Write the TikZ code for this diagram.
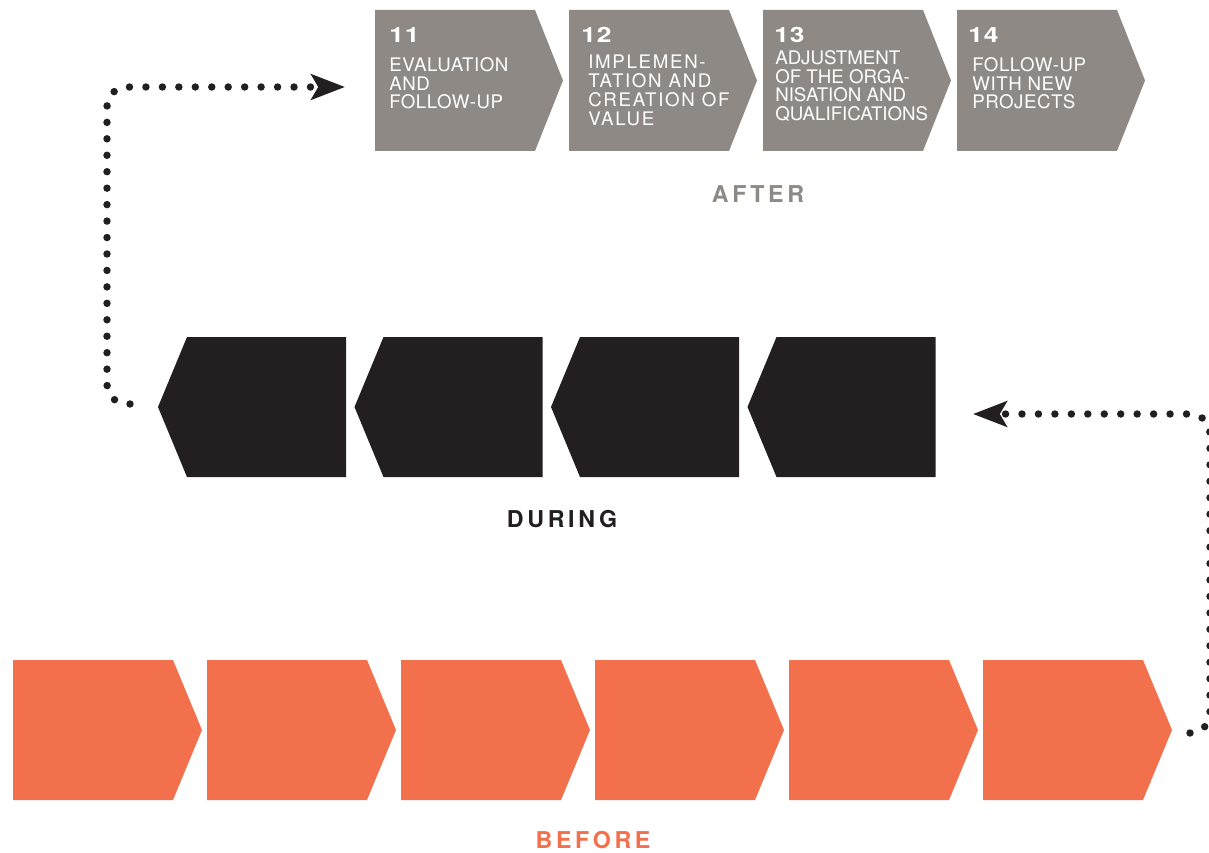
\documentclass[tikz,border=0pt]{standalone}
\usepackage{fontspec}
\setmainfont{TeX Gyre Heros}
\newfontfamily\numfont[FakeStretch=1.25, LetterSpace=4]{TeX Gyre Heros}
\newfontfamily\boxfont[LetterSpace=3]{TeX Gyre Heros}
\newfontfamily\widefont[LetterSpace=9]{TeX Gyre Heros}
\newfontfamily\phasefont[LetterSpace=16]{TeX Gyre Heros}
\usetikzlibrary{arrows.meta}

\definecolor{aftergrey}{RGB}{142,137,132}
\definecolor{duringblack}{RGB}{35,31,32}
\definecolor{beforeorange}{RGB}{242,112,76}

\tikzset{
  dots/.style={line width=5.3pt, line cap=round, dash pattern=on 0pt off 11.7pt, draw=duringblack},
  dotarrow/.style={-{Stealth[length=24pt, width=18pt, inset=5pt, fill=duringblack]}},
  stepnum/.style={anchor=north west, inner sep=0pt, text=white, font=\numfont\bfseries\fontsize{15}{15}\selectfont},
  steptext/.style={anchor=north west, inner sep=0pt, text=white, align=left, font=\boxfont\fontsize{13.3}{13.4}\selectfont},
  phase/.style={inner sep=0pt, font=\phasefont\bfseries\fontsize{16.5}{17}\selectfont}
}

\begin{document}
\begin{tikzpicture}[x=0.025cm, y=-0.025cm]
    \useasboundingbox (0,0) rectangle (1209,853);

    % After (grey, pointing right)
    \foreach \i in {0,...,3}
      \fill[aftergrey] ({375+194*\i},10) -- ++(160,0) -- ++(28,70.5) -- ++(-28,70.5) -- ++(-160,0) -- cycle;

    % Step numbers and texts
    \node[stepnum] (n11) at (389,27) {11};
    \node[steptext] (t11) at (389,57) {EVALUATION\\AND\\FOLLOW-UP};
    \node[stepnum] (n12) at (581,27) {12};
    \node[steptext, font=\widefont\fontsize{13.3}{13.4}\selectfont] (t12) at (588,55) {IMPLEMEN-\\TATION AND\\CREATION OF\\VALUE};
    \node[stepnum] (n13) at (774,27) {13};
    \node[steptext, font=\fontsize{13.3}{13.4}\selectfont] (t13) at (775,50) {ADJUSTMENT\\OF THE ORGA-\\NISATION AND\\QUALIFICATIONS};
    \node[stepnum] (n14) at (968,27) {14};
    \node[steptext] (t14) at (972,57) {FOLLOW-UP\\WITH NEW\\PROJECTS};

    % During (black, pointing left)
    \foreach \i in {0,...,3}
      \fill[duringblack] ({158+196.5*\i},407) -- ++(29,-70) -- ++(159,0) -- ++(0,140) -- ++(-159,0) -- cycle;

    % Before (orange, pointing right)
    \foreach \i in {0,...,5}
      \fill[beforeorange] ({13+194*\i},660) -- ++(160,0) -- ++(29,70) -- ++(-29,70) -- ++(-160,0) -- cycle;

    % Phase labels
    \node[phase, text=aftergrey] (after) at (758,194.5) {AFTER};
    \node[phase, text=duringblack] (during) at (562,519) {DURING};
    \node[phase, text=beforeorange] (before) at (593,840) {BEFORE};

    % Dotted connectors
    \coordinate (d1) at (130,404);
    \coordinate (c1) at (107,87);
    \coordinate (a1) at (345,87);
    \draw[dots, dotarrow, rounded corners=14pt] (d1) -| (c1) -- (a1);

    \coordinate (b1) at (1190,733);
    \coordinate (c2) at (1210,414);
    \coordinate (d2) at (973,414);
    \draw[dots, dotarrow, rounded corners=14pt] (b1) -| (c2) -- (d2);

\end{tikzpicture}
\end{document}
